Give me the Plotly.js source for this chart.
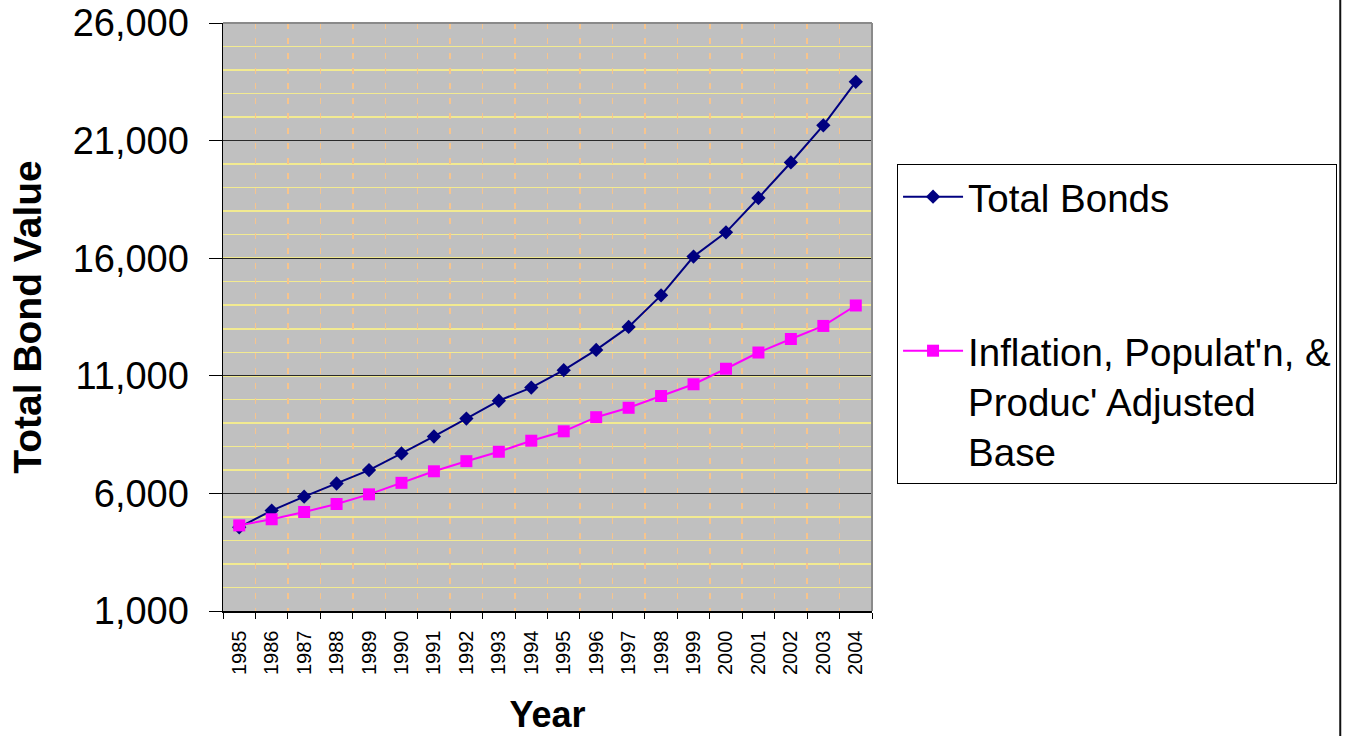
<!DOCTYPE html>
<html>
<head>
<meta charset="utf-8">
<script src="https://cdn.plot.ly/plotly-3.0.1.min.js"></script>
<style>
  html, body { margin: 0; padding: 0; background: #ffffff; }
  #chart { width: 1348px; height: 736px; }
</style>
</head>
<body>
<div id="chart"></div>
<script>
// Years on the category axis
const years = ['1985','1986','1987','1988','1989','1990','1991','1992','1993','1994',
               '1995','1996','1997','1998','1999','2000','2001','2002','2003','2004'];

// Total bond value per year
const totalBonds = [4560, 5270, 5860, 6420, 6990, 7700, 8420, 9180, 9940, 10500,
                    11240, 12100, 13080, 14420, 16070, 17100, 18560, 20070, 21650, 23500];

// Base adjusted for inflation, population and productivity
const adjustedBase = [4640, 4900, 5210, 5550, 5960, 6450, 6940, 7370, 7770, 8240,
                      8640, 9240, 9640, 10140, 10640, 11300, 11990, 12565, 13120, 13990];

const seriesNames = ['Total Bonds', "Inflation, Populat'n, &<br>Produc' Adjusted<br>Base"];
const yTickVals = [1000, 6000, 11000, 16000, 21000, 26000];

const FONT = 'Liberation Sans, Arial, Helvetica, sans-serif';

const traces = [
  {
    x: years, y: totalBonds, name: seriesNames[0], type: 'scatter', mode: 'lines+markers',
    legendgroup: 'a',
    line: { color: '#000080', width: 2 },
    marker: { symbol: 'diamond', size: 11, color: '#000080' }
  },
  {
    x: years, y: adjustedBase, name: seriesNames[1], type: 'scatter', mode: 'lines+markers',
    legendgroup: 'b',
    line: { color: '#FF00FF', width: 2 },
    marker: { symbol: 'square', size: 12, color: '#FF00FF' }
  }
];

const layout = {
  width: 1348, height: 736,
  margin: { l: 223, r: 475, t: 23, b: 125, pad: 0 },
  paper_bgcolor: '#ffffff',
  plot_bgcolor: '#C0C0C0',
  font: { family: FONT, color: '#000000' },
  showlegend: true,
  legend: {
    x: 1.037, y: 0.76, xanchor: 'left', yanchor: 'top',
    bgcolor: '#ffffff', bordercolor: '#000000', borderwidth: 1,
    font: { family: FONT, size: 38.5, color: '#000000' },
    tracegroupgap: 101,
    traceorder: 'grouped',
    valign: 'top',
    itemwidth: 60
  },
  xaxis: {
    type: 'category',
    tickson: 'boundaries',
    ticks: 'outside', ticklen: 6, tickcolor: '#000000', tickwidth: 1,
    tickangle: -90,
    tickfont: { family: FONT, size: 20, color: '#000000' },
    ticklabelstandoff: 10,
    showline: true, linecolor: '#000000', linewidth: 1.5,
    showgrid: true, gridcolor: '#F7C48C', gridwidth: 1.5, griddash: '6px,9px',
    range: [-0.5, 19.5],
    title: { text: '<b>Year</b>', font: { family: FONT, size: 36, color: '#000000' }, standoff: 28 }
  },
  yaxis: {
    range: [1000, 26000],
    tickmode: 'array', tickvals: yTickVals,
    tickformat: ',d',
    ticks: 'outside', ticklen: 13, tickcolor: '#000000', tickwidth: 1,
    tickfont: { family: FONT, size: 38, color: '#000000' },
    ticklabelstandoff: 12,
    showline: true, linecolor: '#000000', linewidth: 1.5,
    showgrid: true, gridcolor: '#2a2a2a', gridwidth: 1,
    zeroline: false,
    minor: { dtick: 1000, tick0: 0, showgrid: true, gridcolor: '#F2EA90', gridwidth: 1.5, ticks: '' },
    title: { text: '<b>Total Bond Value</b>', font: { family: FONT, size: 39, color: '#000000' }, standoff: 19 }
  },
  shapes: [
    // plot-area border along top and right
    { type: 'line', xref: 'paper', yref: 'paper', x0: 0, x1: 1, y0: 1, y1: 1,
      line: { color: '#8a8a8a', width: 2 }, layer: 'above' },
    { type: 'line', xref: 'paper', yref: 'paper', x0: 1, x1: 1, y0: 0, y1: 1,
      line: { color: '#8a8a8a', width: 2 }, layer: 'above' },
    // chart-area frame edge on the right
    { type: 'line', xref: 'paper', yref: 'paper', x0: 1.7215, x1: 1.7215, y0: -0.25, y1: 1.1,
      line: { color: '#111111', width: 2 }, layer: 'above' }
  ]
};

Plotly.newPlot('chart', traces, layout, { displayModeBar: false, staticPlot: true });
</script>
</body>
</html>
